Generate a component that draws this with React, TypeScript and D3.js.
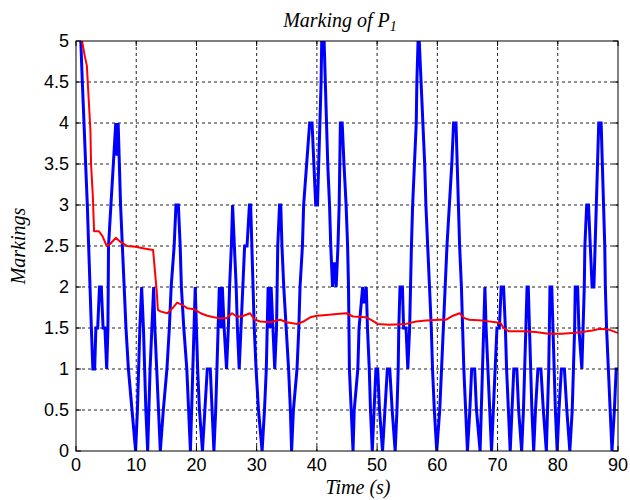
import React from "react";
import * as d3 from "d3";

// axis ticks
const xTickValues = [0, 10, 20, 30, 40, 50, 60, 70, 80, 90];
const yTickValues = [0, 0.5, 1, 1.5, 2, 2.5, 3, 3.5, 4, 4.5, 5];

// marking of P1 (time s, marking)
const blueMarking: [number, number][] = [
  [0.8, 5], [1.05, 4.5], [1.33, 4], [1.6, 3.5], [1.88, 3], [2.1, 2.5], [2.33, 2], [2.55, 1.5], [2.8, 1],
  [3.1, 1], [3.3, 1.5], [3.6, 1.5], [3.9, 2], [4.2, 2], [4.5, 1.5], [4.8, 1.5], [5.1, 1],
  [5.3, 1.5], [5.4, 2.5], [5.8, 3], [6.2, 3.5], [6.6, 4], [6.8, 3.6], [7.0, 4], [7.2, 3.5], [7.4, 3],
  [7.7, 2.5], [8.0, 2], [8.3, 1.5], [8.7, 1], [9.3, 0.5], [9.9, 0],
  [10.2, 0.5], [10.4, 1], [10.6, 1.5], [10.9, 2], [11.2, 1.5], [11.4, 1], [11.6, 0.5], [11.9, 0],
  [12.1, 0.5], [12.3, 1], [12.6, 1.5], [12.9, 2], [13.1, 1.5], [13.4, 1], [13.7, 0.5], [14.0, 0],
  [14.5, 0.5], [15.1, 1], [15.5, 1.5], [15.8, 2], [16.3, 2.5], [16.6, 3], [17.0, 3], [17.3, 2.5],
  [17.5, 2], [17.9, 1.5], [18.4, 1], [18.7, 0.5], [19.0, 0],
  [19.2, 0.5], [19.4, 1], [19.6, 1.5], [19.8, 2], [20.0, 1.5], [20.2, 1], [20.5, 0.5], [21.0, 0],
  [21.4, 0.5], [21.8, 1], [22.3, 1], [22.6, 0.5], [22.9, 0],
  [23.2, 0.5], [23.4, 1], [23.6, 1.5], [23.8, 2], [24.1, 1.5], [24.3, 2], [24.6, 1.5], [25.0, 1],
  [25.3, 1.5], [25.5, 2], [25.8, 2.5], [26.0, 3], [26.3, 2.5], [26.6, 2], [26.8, 1.5], [27.1, 1],
  [27.4, 1.5], [27.7, 2], [28.0, 2.5], [28.4, 2.5], [28.8, 3], [29.0, 3], [29.2, 2.5], [29.4, 2],
  [29.6, 1.5], [29.9, 1], [30.3, 0.5], [30.9, 0],
  [31.3, 0.5], [31.6, 1], [31.9, 2], [32.2, 1.5], [32.4, 2], [32.7, 1.5], [33.0, 1], [33.3, 1.5],
  [33.5, 2.5], [33.8, 3], [34.0, 3], [34.2, 2.5], [34.5, 2], [34.9, 1.5], [35.3, 1], [35.6, 0.5], [35.8, 0],
  [36.1, 0.5], [36.7, 1], [37.0, 1.5], [37.2, 2], [37.6, 2.5], [37.8, 3], [38.3, 3.5], [38.8, 4],
  [39.2, 4], [39.5, 3.5], [39.8, 3], [40.1, 3], [40.3, 3.5], [40.5, 4], [40.7, 4.5], [40.8, 5],
  [41.2, 5], [41.4, 4.5], [41.6, 4], [41.8, 3.5], [42.1, 3], [42.3, 2.5], [42.6, 2], [42.9, 2.3],
  [43.2, 2], [43.5, 2.5], [43.7, 3], [43.8, 3.5], [43.9, 4], [44.2, 4], [44.5, 3.5], [44.85, 3],
  [45.1, 2.5], [45.25, 2], [45.4, 1], [45.7, 0.5], [46.0, 0],
  [46.2, 0.5], [46.8, 1], [47.0, 1.5], [47.6, 2], [47.8, 1.8], [48.2, 2], [48.4, 1.5], [48.7, 1],
  [48.9, 0.5], [49.2, 0], [49.5, 0.5], [49.8, 1], [50.1, 1], [50.4, 0.5], [50.9, 0],
  [51.3, 0.5], [51.7, 1], [52.1, 1], [52.5, 0.5], [53.0, 0],
  [53.3, 0.5], [53.5, 1], [53.6, 1.5], [53.8, 2], [54.2, 2], [54.4, 1.5], [54.8, 1.5], [55.1, 1],
  [55.4, 1.5], [55.7, 2.5], [55.9, 3], [56.2, 3.5], [56.5, 4], [56.6, 4.5], [56.8, 5], [57.0, 5],
  [57.3, 4.5], [57.6, 4], [57.9, 3.5], [58.1, 3], [58.4, 2.5], [58.7, 2], [59.0, 1.5], [59.2, 1],
  [59.5, 0.5], [59.9, 0],
  [60.4, 0.5], [60.7, 1], [61.0, 1.5], [61.3, 2], [61.6, 2.5], [62.0, 3], [62.4, 3.5], [62.7, 4],
  [63.1, 4], [63.3, 3.5], [63.5, 3], [63.7, 2.5], [64.0, 2], [64.2, 1.5], [64.4, 1], [64.7, 0.5], [65.0, 0],
  [65.4, 0.5], [65.7, 1], [66.2, 1], [66.5, 0.5], [67.1, 0],
  [67.3, 0.5], [67.5, 1], [67.7, 1.5], [67.9, 2], [68.1, 1.5], [68.4, 1], [68.7, 0.5], [69.0, 0],
  [69.3, 0.5], [69.6, 1], [69.9, 1.5], [70.3, 1.5], [70.6, 2], [71.0, 2], [71.3, 1.5], [71.5, 1],
  [71.8, 0.5], [72.1, 0],
  [72.4, 0.5], [72.7, 1], [73.2, 1], [73.5, 0.5], [74.0, 0],
  [74.3, 0.5], [74.5, 1], [74.7, 1.5], [74.9, 2], [75.1, 2], [75.3, 1.5], [75.5, 1], [75.7, 0.5], [76.0, 0],
  [76.3, 0.5], [76.7, 1], [77.2, 1], [77.6, 0.5], [78.1, 0],
  [78.3, 0.5], [78.5, 1], [78.7, 2], [79.0, 2], [79.2, 1.5], [79.4, 1], [79.6, 0.5], [79.9, 0],
  [80.2, 0.5], [80.6, 1], [81.1, 1], [81.5, 0.5], [82.0, 0],
  [82.4, 0.5], [82.6, 1], [82.8, 1.5], [82.9, 2], [83.3, 2], [83.5, 1.5], [84.0, 1], [84.2, 1.5],
  [84.4, 2], [84.5, 2.5], [84.8, 3], [85.1, 3], [85.4, 2.5], [85.7, 2], [86.0, 2], [86.2, 2.5],
  [86.4, 3], [86.6, 3.5], [86.8, 4], [87.2, 4], [87.4, 3.5], [87.6, 3], [87.8, 2.5], [87.9, 2],
  [88.1, 1.5], [88.4, 1], [88.7, 0.5], [89.0, 0], [89.4, 0.5], [89.7, 1], [90, 1],
];

// mean marking (red)
const redMean: [number, number][] = [
  [1.0, 5.0], [1.5, 4.8], [1.8, 4.7], [2.1, 4.3], [2.4, 3.9], [2.5, 3.5], [2.8, 3.1], [3.0, 2.68],
  [3.8, 2.68], [4.4, 2.62], [5.1, 2.5], [5.75, 2.53], [6.6, 2.6], [7.4, 2.55], [8.5, 2.5], [9.9, 2.49],
  [11.3, 2.47], [12.8, 2.45], [13.1, 2.2], [13.4, 1.95], [13.6, 1.72], [14.1, 1.7], [15.2, 1.68],
  [16.0, 1.74], [16.8, 1.81], [17.7, 1.78], [18.5, 1.74], [19.6, 1.73], [20.7, 1.68], [21.8, 1.65],
  [22.9, 1.63], [23.9, 1.62], [25.0, 1.62], [25.9, 1.68], [26.7, 1.64], [27.5, 1.64], [28.9, 1.68],
  [29.7, 1.6], [30.6, 1.58], [32.2, 1.57], [33.9, 1.6], [35.0, 1.57], [36.7, 1.55], [37.8, 1.58],
  [38.9, 1.63], [40.0, 1.65], [41.6, 1.66], [43.3, 1.67], [44.9, 1.68], [46.0, 1.64], [48.2, 1.63],
  [49.0, 1.6], [50.1, 1.55], [52.0, 1.54], [54.8, 1.55], [56.5, 1.58], [58.1, 1.59], [60.4, 1.6],
  [61.4, 1.6], [62.6, 1.65], [63.7, 1.68], [64.5, 1.62], [65.3, 1.6], [67.5, 1.59], [69.7, 1.57],
  [70.5, 1.56], [71.0, 1.5], [71.9, 1.46], [74.1, 1.46], [76.3, 1.45], [78.5, 1.43], [80.7, 1.43],
  [82.4, 1.44], [84.0, 1.45], [85.7, 1.47], [87.1, 1.49], [88.5, 1.48], [89.6, 1.45], [90, 1.44],
];

const width = 630, height = 500;
const left = 76, right = 618, top = 41, bottom = 451;

export default function App() {
  const x = d3.scaleLinear().domain([0, 90]).range([left, right]);
  const y = d3.scaleLinear().domain([0, 5]).range([bottom, top]);

  const line = d3.line<[number, number]>()
    .x(d => x(d[0]))
    .y(d => y(d[1]));

  const tickFont = "'Liberation Sans', Arial, sans-serif";
  const labelFont = "'Liberation Serif', 'Times New Roman', serif";

  return (
    <svg width={width} height={height} style={{ position: "absolute", left: 0, top: 0, background: "#fff" }}>
      <defs>
        <clipPath id="plot">
          <rect x={left} y={top} width={right - left} height={bottom - top} />
        </clipPath>
      </defs>
      <rect x={0} y={0} width={width} height={height} fill="#fff" />

      {/* grid */}
      <g stroke="#222" strokeWidth={1} strokeDasharray="3,3">
        {xTickValues.slice(1, -1).map(d => (
          <line key={"gx" + d} x1={x(d)} x2={x(d)} y1={top} y2={bottom} />
        ))}
        {yTickValues.slice(1, -1).map(d => (
          <line key={"gy" + d} x1={left} x2={right} y1={y(d)} y2={y(d)} />
        ))}
      </g>

      <g clipPath="url(#plot)">
        <path d={line(blueMarking) || ""} fill="none" stroke="#0000ff" strokeWidth={3} strokeLinejoin="miter" />
        <path d={line(redMean) || ""} fill="none" stroke="#ff0000" strokeWidth={2} strokeLinejoin="round" />
      </g>

      {/* box and ticks */}
      <rect x={left} y={top} width={right - left} height={bottom - top} fill="none" stroke="#000" strokeWidth={1} />
      <g stroke="#000" strokeWidth={1}>
        {xTickValues.map(d => (
          <g key={"tx" + d}>
            <line x1={x(d)} x2={x(d)} y1={bottom} y2={bottom - 5} />
            <line x1={x(d)} x2={x(d)} y1={top} y2={top + 5} />
          </g>
        ))}
        {yTickValues.map(d => (
          <g key={"ty" + d}>
            <line x1={left} x2={left + 5} y1={y(d)} y2={y(d)} />
            <line x1={right} x2={right - 5} y1={y(d)} y2={y(d)} />
          </g>
        ))}
      </g>

      {/* tick labels */}
      <g fontFamily={tickFont} fontSize={18} fill="#000">
        {xTickValues.map(d => (
          <text key={"lx" + d} x={x(d)} y={bottom + 20} textAnchor="middle">{d}</text>
        ))}
        {yTickValues.map(d => (
          <text key={"ly" + d} x={left - 7} y={y(d) + 6} textAnchor="end">{d}</text>
        ))}
      </g>

      {/* titles */}
      <text x={340} y={27} textAnchor="middle" fontFamily={labelFont} fontStyle="italic" fontSize={20}>
        Marking of P<tspan fontSize={14} dy={4}>1</tspan>
      </text>
      <text x={358} y={494} textAnchor="middle" fontFamily={labelFont} fontStyle="italic" fontSize={20}>
        Time (s)
      </text>
      <text transform={`translate(25,${(top + bottom) / 2}) rotate(-90)`} textAnchor="middle"
        fontFamily={labelFont} fontStyle="italic" fontSize={20}>
        Markings
      </text>
    </svg>
  );
}
